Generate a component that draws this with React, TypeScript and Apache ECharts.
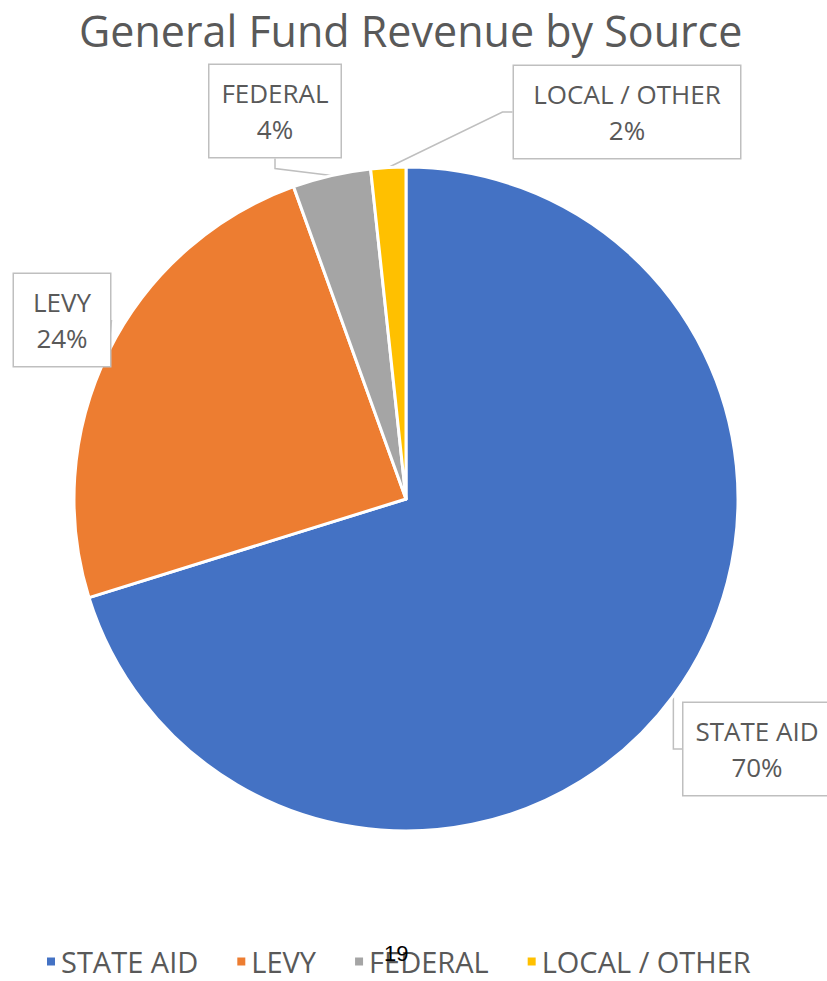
import React, { useEffect, useRef } from "react";
import * as echarts from "echarts";

const categories = ["STATE AID", "LEVY", "FEDERAL", "LOCAL / OTHER"];
const values = [70.2, 24.3, 3.8, 1.7];
const colors = ["#4472C4", "#ED7D31", "#A5A5A5", "#FFC000"];
const labelCenters = [
  [757, 749],
  [62, 320],
  [275, 111],
  [627, 112],
];
const labelWidths = [131, 80, 115, 210];

export default function App() {
  const ref = useRef<HTMLDivElement>(null);
  useEffect(() => {
    if (!ref.current) return;
    const chart = echarts.init(ref.current, undefined, { renderer: "svg" });
    const font = "'Open Sans', 'Noto Sans', sans-serif";
    chart.setOption({
      animation: false,
      backgroundColor: "#ffffff",
      title: {
        text: "General Fund Revenue by Source",
        left: 74,
        top: 4,
        textStyle: { fontFamily: font, fontSize: 43, fontWeight: "normal", color: "#595959" },
      },
      legend: {
        bottom: 0,
        left: 40,
        icon: "rect",
        itemWidth: 10,
        itemHeight: 10,
        itemGap: 37,
        textStyle: { fontFamily: font, fontSize: 29, color: "#595959" },
        data: categories,
      },
      graphic: [
        {
          type: "text",
          left: 384,
          top: 942,
          z: 100,
          style: { text: "19", fontFamily: "Liberation Sans, Arial, sans-serif", fontSize: 22, fill: "#000" },
        },
      ],
      series: [
        {
          type: "pie",
          center: [406, 499],
          radius: [0, 332],
          startAngle: 90,
          clockwise: true,
          itemStyle: { borderColor: "#ffffff", borderWidth: 3 },
          data: categories.map((name, i) => ({
            name,
            value: values[i],
            itemStyle: { color: colors[i] },
            label: { width: labelWidths[i] },
          })),
          label: {
            show: true,
            position: "outside",
            formatter: (p: any) => `${p.name}\n${Math.round(p.percent)}%`,
            fontFamily: font,
            fontSize: 26,
            lineHeight: 36,
            color: "#595959",
            align: "center",
            backgroundColor: "#ffffff",
            borderColor: "#BFBFBF",
            borderWidth: 1.5,
            padding: [10, 8],
          },
          labelLine: {
            show: true,
            lineStyle: { color: "#BFBFBF", width: 1.5 },
            length: 10,
            length2: 10,
          },
          labelLayout: (params: any) => {
            const c = labelCenters[params.dataIndex];
            return { x: c[0], y: c[1], align: "center", verticalAlign: "middle" };
          },
        },
      ],
    });
    return () => chart.dispose();
  }, []);
  return (
    <div
      ref={ref}
      style={{ position: "fixed", left: 0, top: 0, width: 827, height: 981 }}
    />
  );
}
